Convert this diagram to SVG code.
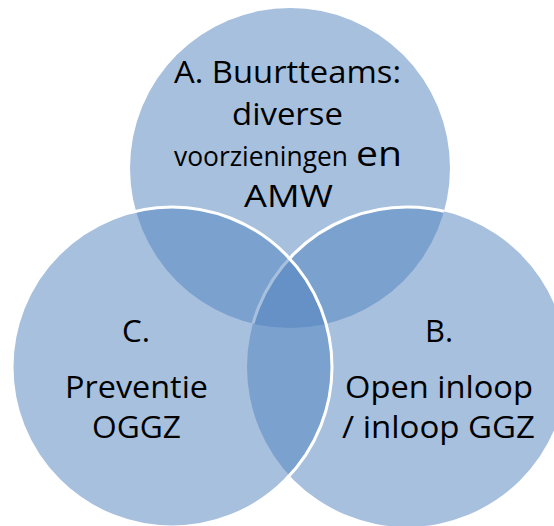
<svg xmlns="http://www.w3.org/2000/svg" width="554" height="526" viewBox="0 0 554 526">
  <defs>
    <style>
      .fill { fill: #4F81BD; fill-opacity: 0.5; }
      .edge { fill: none; stroke: #FFFFFF; stroke-width: 3; }
      .lbl { font-family: "Open Sans", "Noto Sans", "Liberation Sans", sans-serif; font-size: 31px; fill: #000000; }
    </style>
    <clipPath id="clipA">
      <circle cx="290" cy="168" r="160"/>
    </clipPath>
  </defs>
  <rect width="554" height="526" fill="#FFFFFF"/>

  <g id="nodeA">
    <circle class="fill" cx="290" cy="168" r="160"/>
    <text class="lbl" x="174" y="83" textLength="227" lengthAdjust="spacingAndGlyphs">A. Buurtteams:</text>
    <text class="lbl" x="232" y="125" textLength="111" lengthAdjust="spacingAndGlyphs">diverse</text>
    <text class="lbl" y="166"><tspan x="174" font-size="28" textLength="174" lengthAdjust="spacingAndGlyphs">voorzieningen</tspan> <tspan x="356" font-size="35" textLength="46" lengthAdjust="spacingAndGlyphs">en</tspan></text>
    <text class="lbl" x="244" y="207" textLength="89" lengthAdjust="spacingAndGlyphs">AMW</text>
  </g>

  <g id="nodeB">
    <circle class="fill" cx="407" cy="367" r="160"/>
    <circle class="edge" cx="407" cy="367" r="160" clip-path="url(#clipA)"/>
    <text class="lbl" x="425" y="342" textLength="28" lengthAdjust="spacingAndGlyphs">B.</text>
    <text class="lbl" x="345" y="398" textLength="188" lengthAdjust="spacingAndGlyphs">Open inloop</text>
    <text class="lbl" x="342" y="438" textLength="193" lengthAdjust="spacingAndGlyphs">/ inloop GGZ</text>
  </g>

  <g id="nodeC">
    <circle class="fill" cx="172" cy="367" r="160"/>
    <circle class="edge" cx="172" cy="367" r="160"/>
    <text class="lbl" x="122" y="342" textLength="28" lengthAdjust="spacingAndGlyphs">C.</text>
    <text class="lbl" x="65" y="398" textLength="143" lengthAdjust="spacingAndGlyphs">Preventie</text>
    <text class="lbl" x="92" y="438" textLength="89" lengthAdjust="spacingAndGlyphs">OGGZ</text>
  </g>

  <g id="connectors"></g>
</svg>
